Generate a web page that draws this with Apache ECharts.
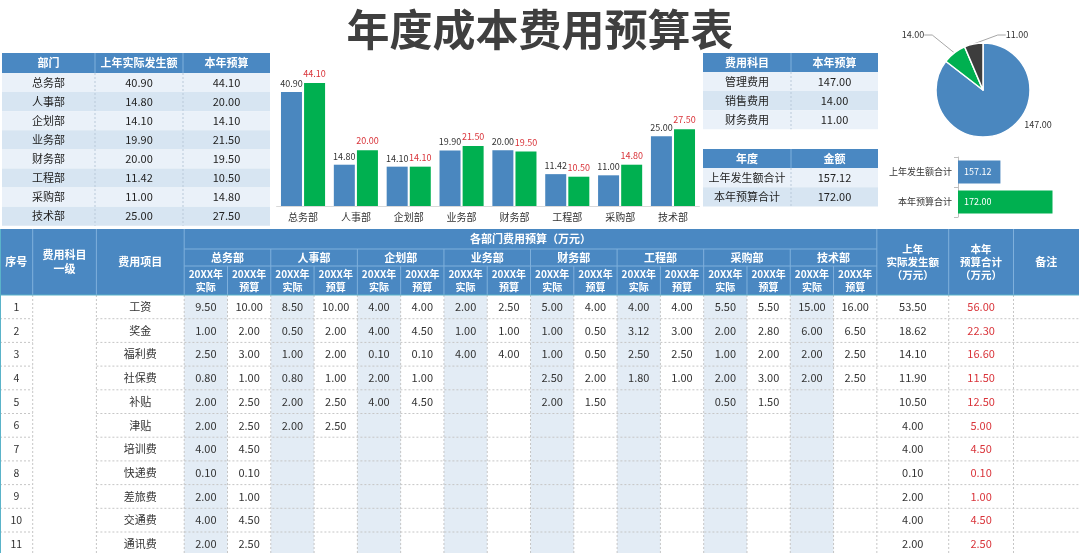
<!DOCTYPE html>
<html><head><meta charset="utf-8">
<script src="https://cdn.jsdelivr.net/npm/echarts@6/dist/echarts.min.js"></script>
<style>html,body{margin:0;padding:0;background:#fff}#c{width:1080px;height:553px}</style>
</head><body><div id="c"></div>
<script>
// ---------------- DATA ----------------
const titleText = '年度成本费用预算表';
const depts = ['总务部','人事部','企划部','业务部','财务部','工程部','采购部','技术部'];
const lastYear = [40.90,14.80,14.10,19.90,20.00,11.42,11.00,25.00];
const thisYear = [44.10,20.00,14.10,21.50,19.50,10.50,14.80,27.50];
const costSubjects = ['管理费用','销售费用','财务费用'];
const subjectBudget = [147.00,14.00,11.00];
const totalLabels = ['上年发生额合计','本年预算合计'];
const totalValues = [157.12,172.00];
const items = ['工资','奖金','福利费','社保费','补贴','津贴','培训费','快递费','差旅费','交通费','通讯费'];
const N = null;
const actual = {
  '总务部':[9.50,1.00,2.50,0.80,2.00,2.00,4.00,0.10,2.00,4.00,2.00],
  '人事部':[8.50,0.50,1.00,0.80,2.00,2.00,N,N,N,N,N],
  '企划部':[4.00,4.00,0.10,2.00,4.00,N,N,N,N,N,N],
  '业务部':[2.00,1.00,4.00,N,N,N,N,N,N,N,N],
  '财务部':[5.00,1.00,1.00,2.50,2.00,N,N,N,N,N,N],
  '工程部':[4.00,3.12,2.50,1.80,N,N,N,N,N,N,N],
  '采购部':[5.50,2.00,1.00,2.00,0.50,N,N,N,N,N,N],
  '技术部':[15.00,6.00,2.00,2.00,N,N,N,N,N,N,N]
};
const budget = {
  '总务部':[10.00,2.00,3.00,1.00,2.50,2.50,4.50,0.10,1.00,4.50,2.50],
  '人事部':[10.00,2.00,2.00,1.00,2.50,2.50,N,N,N,N,N],
  '企划部':[4.00,4.50,0.10,1.00,4.50,N,N,N,N,N,N],
  '业务部':[2.50,1.00,4.00,N,N,N,N,N,N,N,N],
  '财务部':[4.00,0.50,0.50,2.00,1.50,N,N,N,N,N,N],
  '工程部':[4.00,3.00,2.50,1.00,N,N,N,N,N,N,N],
  '采购部':[5.50,2.80,2.00,3.00,1.50,N,N,N,N,N,N],
  '技术部':[16.00,6.50,2.50,2.50,N,N,N,N,N,N,N]
};
const lastTotal = [53.50,18.62,14.10,11.90,10.50,4.00,4.00,0.10,2.00,4.00,2.00];
const thisTotal = [56.00,22.30,16.60,11.50,12.50,5.00,4.50,0.10,1.00,4.50,2.50];

// ---------------- STYLE ----------------
const FONT = '"Noto Sans CJK SC", "Noto Sans", sans-serif';
const HEAD = '#4a88c2';
const BLUE = '#4a87bf';
const GREEN = '#00b050';
const DARK = '#3d3d3d';
const RED = '#d9343a';
const ROW_A = '#eaf1f9', ROW_B = '#d7e5f2';
const fmt = v => (v == null ? '' : v.toFixed(2));

const g = [];
function rect(x,y,w,h,fill){ g.push({type:'rect',silent:true,z:1,shape:{x:x,y:y,width:w,height:h},style:{fill:fill}}); }
function line(x1,y1,x2,y2,stroke,dash){ g.push({type:'line',silent:true,z:2,shape:{x1:x1,y1:y1,x2:x2,y2:y2},style:{stroke:stroke,lineWidth:1,lineDash:dash||null}}); }
function text(x,y,s,o){ o=o||{}; g.push({type:'text',silent:true,z:5,x:x,y:y,style:{text:s,fill:o.color||'#333',fontSize:o.size||11,fontWeight:o.bold?'bold':'normal',fontFamily:FONT,align:o.align||'center',verticalAlign:'middle',lineHeight:o.lh||undefined}}); }

// title
text(540,30,titleText,{size:43,bold:true,color:'#3f3f3f'});

// small table helper
function smallTable(cols, top, headH, rowH, headers, rows){
  const x0 = cols[0], x1 = cols[cols.length-1];
  rect(x0, top, x1-x0, headH, HEAD);
  for (let c=0;c<headers.length;c++) text((cols[c]+cols[c+1])/2, top+headH/2, headers[c], {color:'#fff', bold:true, size:11});
  for (let c=1;c<cols.length-1;c++) line(cols[c], top, cols[c], top+headH, '#7fb0dc');
  for (let r=0;r<rows.length;r++){
    const y = top+headH+r*rowH;
    rect(x0, y, x1-x0, rowH, r%2===0?ROW_A:ROW_B);
    for (let c=0;c<rows[r].length;c++) text((cols[c]+cols[c+1])/2, y+rowH/2, rows[r][c], {size:11, color:'#222'});
  }
  const yb = top+headH+rows.length*rowH;
  for (let c=1;c<cols.length-1;c++) line(cols[c], top+headH, cols[c], yb, '#b9c9d9', [2,2]);
}
smallTable([2,95,183,270], 53, 20, 19.1, ['部门','上年实际发生额','本年预算'], depts.map((d,i)=>[d, fmt(lastYear[i]), fmt(thisYear[i])]));
smallTable([703,791,878], 53, 19, 19.1, ['费用科目','本年预算'], costSubjects.map((d,i)=>[d, fmt(subjectBudget[i])]));
smallTable([703,791,878], 149, 19, 19.3, ['年度','金额'], totalLabels.map((d,i)=>[d, fmt(totalValues[i])]));

// ---------------- BIG TABLE ----------------
const E = [0,32.7,96.4,184.2];
const SUBW = 43.29;
for (let i=1;i<=16;i++) E.push(184.2+i*SUBW);
E.push(948.7,1013.5,1079);
const hTop = 229, h1 = 249, h2 = 266, hBot = 295, rowH = 23.7, bodyBot = 295+11*23.7;
rect(0,hTop,1079,hBot-hTop,HEAD);
const SEP = '#7fb0dc';
[E[1],E[2],E[3],E[19],E[20],E[21]].forEach(x=>line(x,hTop,x,hBot,SEP));
for (let k=1;k<8;k++) line(E[3+2*k],h1,E[3+2*k],hBot,SEP);
for (let k=0;k<8;k++) line(E[4+2*k],h2,E[4+2*k],hBot,SEP);
line(E[3],h1,E[19],h1,SEP); line(E[3],h2,E[19],h2,SEP);
const HT = {color:'#fff',bold:true,size:11,lh:14};
text((E[0]+E[1])/2,262,'序号',HT);
text((E[1]+E[2])/2,262,'费用科目\n一级',HT);
text((E[2]+E[3])/2,262,'费用项目',HT);
text((E[3]+E[19])/2,239,'各部门费用预算（万元）',HT);
depts.forEach((d,k)=>text((E[3+2*k]+E[5+2*k])/2,(h1+h2)/2,d,HT));
for (let k=0;k<8;k++){
  text((E[3+2*k]+E[4+2*k])/2,281,'20XX年\n实际',{color:'#fff',bold:true,size:10,lh:13});
  text((E[4+2*k]+E[5+2*k])/2,281,'20XX年\n预算',{color:'#fff',bold:true,size:10,lh:13});
}
text((E[19]+E[20])/2,262,'上年\n实际发生额\n（万元）',{color:'#fff',bold:true,size:10.5,lh:13});
text((E[20]+E[21])/2,262,'本年\n预算合计\n（万元）',{color:'#fff',bold:true,size:10.5,lh:13});
text((E[21]+E[22])/2,262,'备注',HT);
// body
for (let k=0;k<8;k++) rect(E[3+2*k],hBot,SUBW,bodyBot-hBot,'#e3ecf5');
const GRID = '#c6c6c6';
for (let r=1;r<=11;r++){
  const y = hBot+r*rowH;
  line(E[0],y,E[1],y,GRID,[2,2]);
  line(E[2],y,E[22],y,GRID,[2,2]);
}
for (let c=1;c<E.length-1;c++) line(E[c],hBot,E[c],bodyBot,GRID,[2,2]);
line(0.5,hTop,0.5,bodyBot,'#5ab3c9');
line(0,hBot,1079,hBot,'#5ab3c9');
items.forEach((it,r)=>{
  const y = hBot+r*rowH+rowH/2;
  text((E[0]+E[1])/2,y,String(r+1),{size:10.5});
  text((E[2]+E[3])/2,y,it,{size:11});
  depts.forEach((d,k)=>{
    text((E[3+2*k]+E[4+2*k])/2,y,fmt(actual[d][r]),{size:11});
    text((E[4+2*k]+E[5+2*k])/2,y,fmt(budget[d][r]),{size:11});
  });
  text((E[19]+E[20])/2,y,fmt(lastTotal[r]),{size:11});
  text((E[20]+E[21])/2,y,fmt(thisTotal[r]),{size:11,color:RED});
});

// ---------------- CHARTS ----------------
const chart = echarts.init(document.getElementById('c'));
const pieLabelPos = [[1038,125],[913,35],[1017,35]];
chart.setOption({
  animation:false,
  textStyle:{fontFamily:FONT},
  graphic:{elements:g},
  grid:[
    {left:276.6, top:66.5, width:422.8, height:139.5},
    {left:958, top:157, width:105, height:60}
  ],
  xAxis:[
    {gridIndex:0,type:'category',data:depts,axisTick:{show:false},
     axisLine:{lineStyle:{color:'#d9d9d9'}},axisLabel:{color:'#333',fontSize:10,margin:6}},
    {gridIndex:1,type:'value',min:145,max:175,show:false}
  ],
  yAxis:[
    {gridIndex:0,type:'value',min:0,max:50,show:false},
    {gridIndex:1,type:'category',inverse:true,data:totalLabels,
     axisLine:{lineStyle:{color:'#bfbfbf'}},axisTick:{show:true,length:4,lineStyle:{color:'#bfbfbf'}},
     axisLabel:{color:'#333',fontSize:9,margin:6}}
  ],
  series:[
    {type:'bar',xAxisIndex:0,yAxisIndex:0,data:lastYear,barWidth:21,barGap:'10%',
     itemStyle:{color:BLUE},
     label:{show:true,position:'top',distance:4,fontSize:9,color:'#333',formatter:p=>fmt(p.value)}},
    {type:'bar',xAxisIndex:0,yAxisIndex:0,data:thisYear,barWidth:21,barGap:'10%',
     itemStyle:{color:GREEN},
     label:{show:true,position:'top',distance:5,fontSize:9,color:RED,formatter:p=>fmt(p.value)}},
    {type:'bar',xAxisIndex:1,yAxisIndex:1,barWidth:23,
     data:totalValues.map((v,i)=>({value:v,itemStyle:{color:i===0?BLUE:GREEN}})),
     label:{show:true,position:'insideLeft',distance:6,fontSize:9,color:'#fff',formatter:p=>fmt(p.value)}},
    {type:'pie',center:[983,90],radius:47,startAngle:90,clockwise:true,
     data:costSubjects.map((n,i)=>({name:n,value:subjectBudget[i],
        itemStyle:{color:[BLUE,GREEN,DARK][i]},
        labelLine:{show:i!==0}})),
     itemStyle:{borderColor:'#fff',borderWidth:1.5},
     label:{show:true,position:'outside',fontSize:9,color:'#333',formatter:p=>fmt(p.value)},
     labelLine:{show:true,length:8,length2:8,lineStyle:{color:'#a6a6a6',width:1}},
     labelLayout:function(p){ const q = pieLabelPos[p.dataIndex]; return {x:q[0],y:q[1],align:'center',verticalAlign:'middle'}; }
    }
  ]
});
</script>
</body></html>
